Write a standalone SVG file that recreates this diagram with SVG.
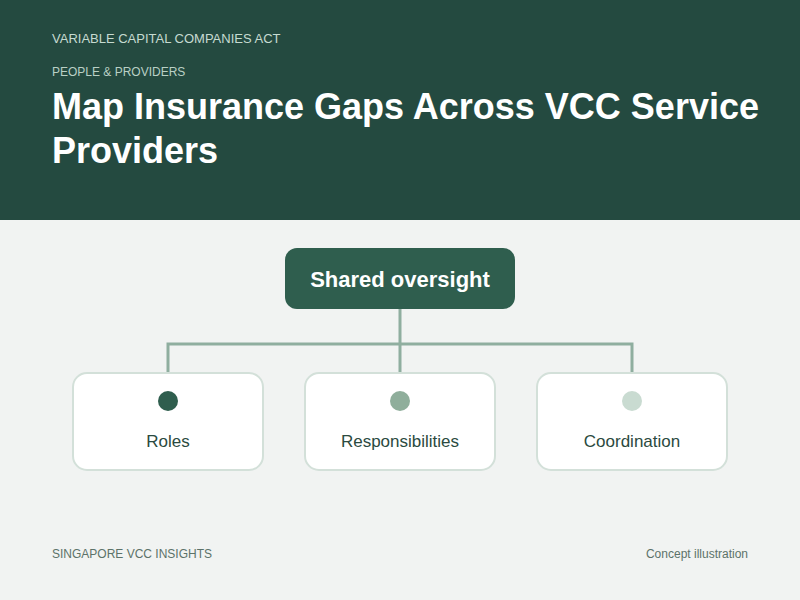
<svg xmlns="http://www.w3.org/2000/svg" width="800" height="600" viewBox="0 0 800 600">
<style>
text{font-family:"Liberation Sans",Arial,sans-serif}
.kick{fill:#c6dbd1;font-size:13px}
.kick2{fill:#b9d0c5;font-size:12px}
.title{fill:#ffffff;font-size:36px;font-weight:700}
.card{fill:#ffffff;stroke:#d3e0d9;stroke-width:2}
.lbl{fill:#2b4a40;font-size:17px;text-anchor:middle}
.conn{stroke:#8fae9f;stroke-width:3;fill:none}
.foot{fill:#5c7269;font-size:12px}
</style>
<rect width="800" height="600" fill="#f1f3f2"/>
<rect width="800" height="220" fill="#244a40"/>
<text class="kick" x="52" y="43">VARIABLE CAPITAL COMPANIES ACT</text>
<text class="kick2" x="52" y="76">PEOPLE &amp; PROVIDERS</text>
<text class="title" x="52" y="119">Map Insurance Gaps Across VCC Service</text>
<text class="title" x="52" y="163">Providers</text>
<g id="connectors">
<path class="conn" d="M400 309V344M168 372V344H632V372M400 344V372"/>
</g>
<g id="shared-oversight">
<rect x="285" y="248" width="230" height="61" rx="12" fill="#2f5e4e"/>
<text x="400" y="287" fill="#ffffff" font-size="22" font-weight="700" text-anchor="middle">Shared oversight</text>
</g>
<g id="roles">
<rect class="card" x="73" y="373" width="190" height="97" rx="14"/>
<circle cx="168" cy="401" r="10" fill="#2f5e4e"/>
<text class="lbl" x="168" y="447">Roles</text>
</g>
<g id="responsibilities">
<rect class="card" x="305" y="373" width="190" height="97" rx="14"/>
<circle cx="400" cy="401" r="10" fill="#8fae9b"/>
<text class="lbl" x="400" y="447">Responsibilities</text>
</g>
<g id="coordination">
<rect class="card" x="537" y="373" width="190" height="97" rx="14"/>
<circle cx="632" cy="401" r="10" fill="#c9dbd1"/>
<text class="lbl" x="632" y="447">Coordination</text>
</g>
<text class="foot" x="52" y="558">SINGAPORE VCC INSIGHTS</text>
<text class="foot" x="748" y="558" text-anchor="end">Concept illustration</text>
</svg>
